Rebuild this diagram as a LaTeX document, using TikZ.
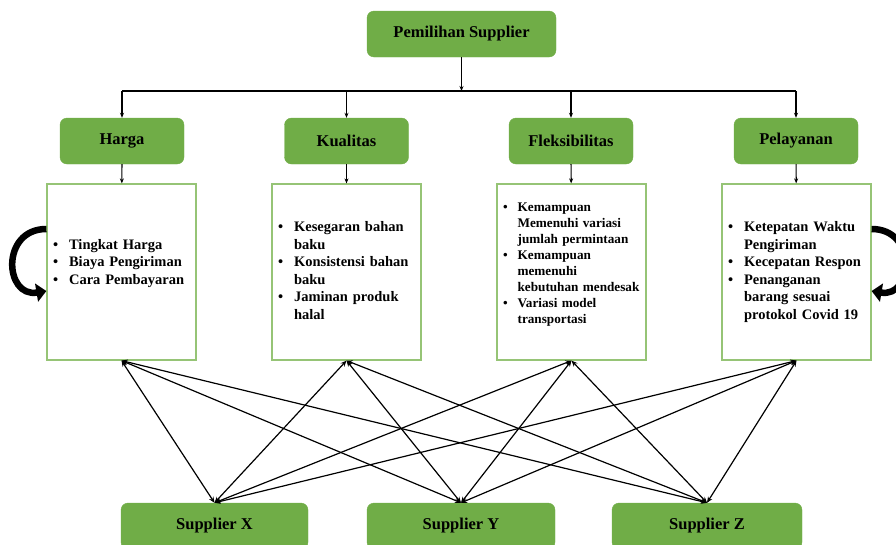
\documentclass[tikz,border=0pt]{standalone}
\usepackage{fontspec}
\setmainfont{Liberation Serif}
\usetikzlibrary{calc, arrows.meta}
\definecolor{officegreen}{RGB}{112,173,71}
\definecolor{edgegreen}{RGB}{150,196,118}

\begin{document}
\begin{tikzpicture}[x=1pt, y=-1pt,
    head/.style={fill=officegreen, draw=officegreen, rounded corners=7pt,
      minimum width=124pt, minimum height=46pt,
      font=\fontsize{16.5}{20}\selectfont\bfseries},
    critbox/.style={draw=edgegreen, line width=1.2pt, minimum width=149pt,
      minimum height=176pt, text width=137pt, inner xsep=6pt, align=left,
      font=\fontsize{14.5}{17.5}\selectfont\bfseries},
    arr/.style={line width=1.2pt, -{Stealth[length=5pt, width=4pt]}},
    link/.style={line width=1.2pt,
      {Stealth[length=6pt, width=5pt]}-{Stealth[length=6pt, width=5pt]}},
    loop/.style={line width=6.5pt, -{Triangle[length=10pt, width=18pt]}}]

    \useasboundingbox (0,0) rectangle (896,544);

    % 1. Goal on top and the four criteria
    \node[head, minimum width=189pt] (pem) at (461.5,34) {Pemilihan Supplier};
    \node[head] (harga) at (122,141) {Harga};
    \node[head] (kual) at (346.5,141) {Kualitas};
    \node[head] (fleks) at (571,141) {Fleksibilitas};
    \node[head] (pel) at (796,141) {Pelayanan};

    % 2. Sub-criteria boxes
    \node[critbox] (hargaBox) at (121.5,272) {%
      \begin{tabular}{@{}l@{\hspace{11pt}}l@{}}
        \textbullet & Tingkat Harga\\
        \textbullet & Biaya Pengiriman\\
        \textbullet & Cara Pembayaran\\
        & \\
      \end{tabular}};
    \node[critbox] (kualBox) at (346.5,272) {%
      \begin{tabular}{@{}l@{\hspace{11pt}}l@{}}
        \textbullet & Kesegaran bahan\\
        & baku\\
        \textbullet & Konsistensi bahan\\
        & baku\\
        \textbullet & Jaminan produk\\
        & halal\\
      \end{tabular}};
    \node[critbox, font=\fontsize{13.2}{16}\selectfont\bfseries] (fleksBox) at (571.5,272) {%
      \begin{tabular}{@{}l@{\hspace{10pt}}l@{}}
        \textbullet & Kemampuan\\
        & Memenuhi variasi\\
        & jumlah permintaan\\
        \textbullet & Kemampuan\\
        & memenuhi\\
        & kebutuhan mendesak\\
        \textbullet & Variasi model\\
        & transportasi\\
        & \\
      \end{tabular}};
    \node[critbox] (pelBox) at (796.5,272) {%
      \begin{tabular}{@{}l@{\hspace{11pt}}l@{}}
        \textbullet & Ketepatan Waktu\\
        & Pengiriman\\
        \textbullet & Kecepatan Respon\\
        \textbullet & Penanganan\\
        & barang sesuai\\
        & protokol Covid 19\\
      \end{tabular}};

    % 3. Alternatives at the bottom
    \node[head, minimum width=187pt] (supX) at (214.5,526) {Supplier X};
    \node[head, minimum width=188pt] (supY) at (461,526) {Supplier Y};
    \node[head, minimum width=190pt] (supZ) at (707,526) {Supplier Z};

    % 4. Tree from the goal down to the criteria
    \coordinate (busL) at (122,91);
    \coordinate (busR) at (796,91);
    \draw[line width=1.2pt] (busL) -- (busR);
    \draw[arr] (pem.south) -- (pem.south |- busL);
    \foreach \c in {harga, kual, fleks, pel}
      \draw[arr] (\c.north |- busL) -- (\c.north);
    \foreach \c in {harga, kual, fleks, pel}
      \draw[arr] (\c) -- (\c Box);

    % 5. Every criterion linked with every supplier
    \foreach \c in {hargaBox, kualBox, fleksBox, pelBox}
      \foreach \s in {supX, supY, supZ}
        \draw[link] (\c.south) -- (\s.north);

    % 6. Curved arrows beside the outer boxes
    \draw[loop] ($(hargaBox.west)+(0,-43)$) .. controls ($(hargaBox.west)+(-46,-43)$)
      and ($(hargaBox.west)+(-42,26)$) .. ($(hargaBox.west)+(0,19)$);
    \draw[loop] ($(pelBox.east)+(0,-43)$) .. controls ($(pelBox.east)+(46,-43)$)
      and ($(pelBox.east)+(42,26)$) .. ($(pelBox.east)+(0,19)$);

\end{tikzpicture}
\end{document}
